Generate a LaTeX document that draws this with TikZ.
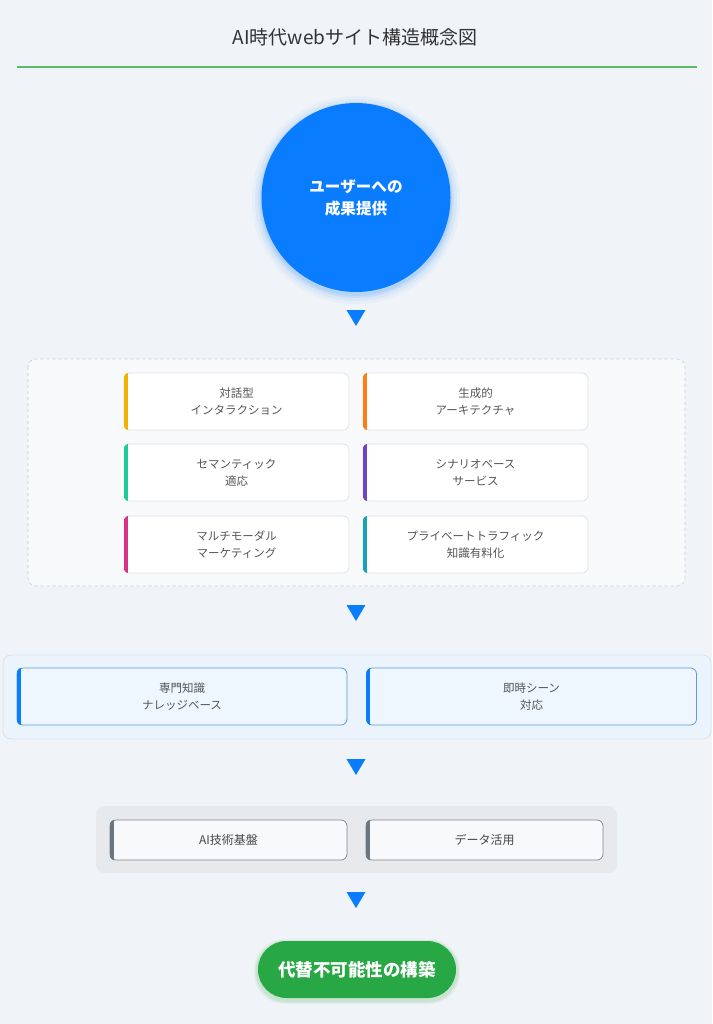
\documentclass[tikz,border=0pt]{standalone}
\usepackage{fontspec}
\setmainfont{Noto Sans CJK JP}
\usetikzlibrary{positioning}
\definecolor{bgc}{HTML}{F0F3F7}
\definecolor{titlec}{HTML}{333333}
\definecolor{linegreen}{HTML}{5DBB6A}
\definecolor{blue1}{HTML}{0A7CFF}
\definecolor{txtc}{HTML}{555555}
\definecolor{dashfill}{HTML}{F8F9FB}
\definecolor{dashline}{HTML}{C8CDD5}
\definecolor{cardline}{HTML}{DEE2E6}
\definecolor{c1}{HTML}{F0B400}
\definecolor{c2}{HTML}{FD7E14}
\definecolor{c3}{HTML}{20C997}
\definecolor{c4}{HTML}{6F42C1}
\definecolor{c5}{HTML}{D63384}
\definecolor{c6}{HTML}{17A2B8}
\definecolor{cont2fill}{HTML}{EBF3FC}
\definecolor{cont2line}{HTML}{D6E2F0}
\definecolor{card2fill}{HTML}{EEF6FF}
\definecolor{card2line}{HTML}{5A9BE0}
\definecolor{cont3fill}{HTML}{E7E9EC}
\definecolor{card3fill}{HTML}{F8F9FA}
\definecolor{card3line}{HTML}{80868C}
\definecolor{stripe3}{HTML}{6C757D}
\definecolor{pillgreen}{HTML}{28A745}
\tikzset{
  cardbase/.style={rectangle, rounded corners=6pt, align=center, inner sep=0pt},
  gridcard/.style={cardbase, fill=white, draw=cardline, line width=0.8pt, minimum width=225pt, minimum height=57pt, text=txtc, font=\fontsize{11.5}{17}\selectfont},
  bluecard/.style={cardbase, fill=card2fill, draw=card2line, line width=0.8pt, minimum width=330pt, minimum height=57pt, text=txtc, font=\fontsize{11.5}{17}\selectfont},
  greycard/.style={cardbase, fill=card3fill, draw=card3line, line width=0.8pt, minimum width=237pt, minimum height=40pt, text=titlec!90, font=\fontsize{12}{17}\selectfont},
  downtri/.style={fill=blue1},
}
\newcommand\stripeit[3]{%
  \begin{scope}
    \clip[rounded corners=6pt] (#1.south west) rectangle (#1.north east);
    \fill[#2] (#1.south west) rectangle ([xshift=#3]#1.north west);
  \end{scope}}
\newcommand\tridown[2]{%
  \fill[downtri] (#1-9.5,#2-8) -- (#1+9.5,#2-8) -- (#1,#2+8) -- cycle;}
\begin{document}
\begin{tikzpicture}[x=1pt,y=-1pt]
\fill[bgc] (0,0) rectangle (712,1024);
\useasboundingbox (0,0) rectangle (712,1024);
% title
\node[text=titlec, font=\fontsize{19}{22}\selectfont] (title) at (355,37) {AI時代webサイト構造概念図};
\coordinate (lineL) at (17,67);
\coordinate (lineR) at (697,67);
\draw[linegreen, line width=1.6pt] (lineL) -- (lineR);
% circle glow
\foreach \r/\o in {104/0.04,101/0.06,98/0.08,96/0.1}{
  \fill[blue1, opacity=\o] (356,200) circle (\r);
}
\node[circle, fill=blue1, minimum size=189pt, inner sep=0pt, text=white, align=center,
  font=\fontsize{15.6}{22}\selectfont\bfseries] (goal) at (356,197.5) {ユーザーへの\\成果提供};
\tridown{356}{318}
% dashed container
\draw[dashline, dashed, fill=dashfill, rounded corners=8pt, line width=0.6pt] (28,359) rectangle (685,586);
\node[gridcard] (g1) at (236.5,401.5) {対話型\\インタラクション};
\node[gridcard] (g2) at (475.5,401.5) {生成的\\アーキテクチャ};
\node[gridcard] (g3) at (236.5,472.5) {セマンティック\\適応};
\node[gridcard] (g4) at (475.5,472.5) {シナリオベース\\サービス};
\node[gridcard] (g5) at (236.5,544.5) {マルチモーダル\\マーケティング};
\node[gridcard] (g6) at (475.5,544.5) {プライベートトラフィック\\知識有料化};
\stripeit{g1}{c1}{4pt}
\stripeit{g2}{c2}{4pt}
\stripeit{g3}{c3}{4pt}
\stripeit{g4}{c4}{4pt}
\stripeit{g5}{c5}{4pt}
\stripeit{g6}{c6}{4pt}
\tridown{356}{613}
% blue container
\draw[cont2line, fill=cont2fill, rounded corners=8pt, line width=0.8pt] (3,655) rectangle (711,739);
\node[bluecard] (b1) at (182,696.5) {専門知識\\ナレッジベース};
\node[bluecard] (b2) at (531.5,696.5) {即時シーン\\対応};
\stripeit{b1}{blue1}{4pt}
\stripeit{b2}{blue1}{4pt}
\tridown{356}{767}
% grey container
\fill[cont3fill, rounded corners=9pt] (96,806) rectangle (617,873);
\node[greycard] (t1) at (228.5,840) {AI技術基盤};
\node[greycard] (t2) at (484.5,840) {データ活用};
\stripeit{t1}{stripe3}{4pt}
\stripeit{t2}{stripe3}{4pt}
\tridown{356}{900}
% pill
\foreach \d/\o in {4/0.05,3/0.07,2/0.09}{
  \fill[pillgreen, opacity=\o, rounded corners=30pt] (258-\d,941-\d+2) rectangle (456+\d,998+\d+2);
}
\node[rectangle, rounded corners=28.5pt, fill=pillgreen, minimum width=198pt, minimum height=57pt,
  text=white, font=\fontsize{17.5}{20}\selectfont\bfseries] (final) at (357,969.5) {代替不可能性の構築};
\end{tikzpicture}
\end{document}
